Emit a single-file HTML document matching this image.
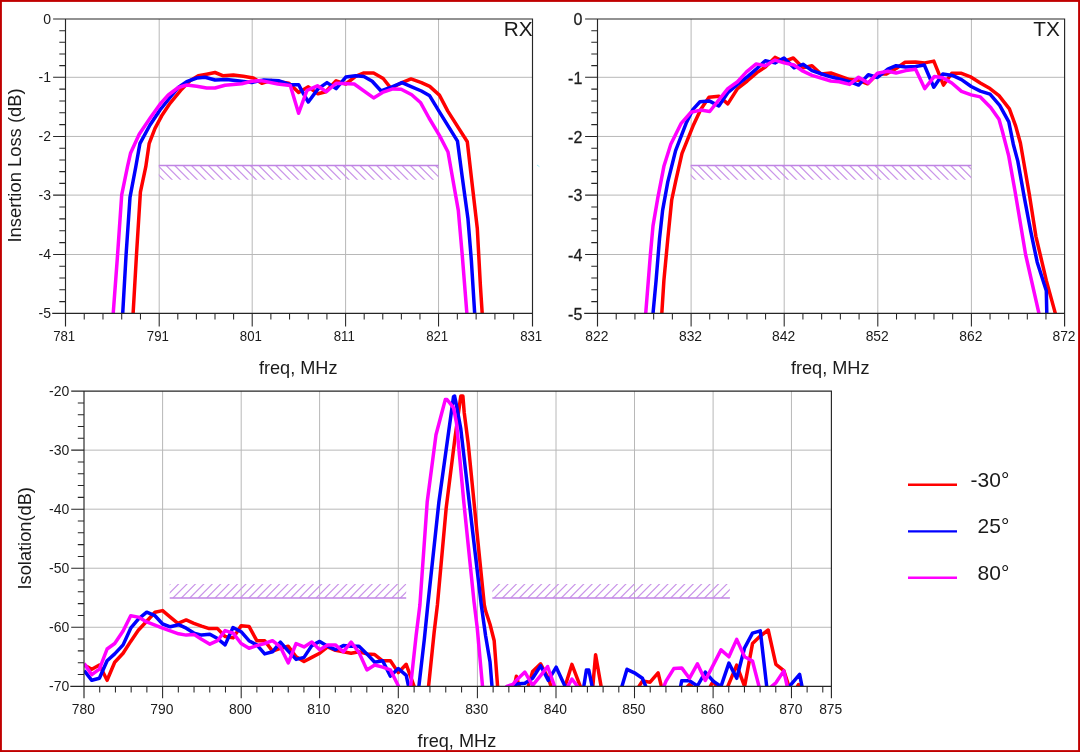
<!DOCTYPE html>
<html><head><meta charset="utf-8"><title>Filter response</title>
<style>
html,body{margin:0;padding:0;background:#fff;overflow:hidden}
svg{display:block;font-family:"Liberation Sans", sans-serif;will-change:transform}
.t{font-size:14px;fill:#1a1a1a}
.l{font-size:17.5px;fill:#1a1a1a}
</style></head><body>
<svg width="1080" height="752" viewBox="0 0 1080 752">
<rect width="1080" height="752" fill="#ffffff"/>
<clipPath id="crx"><rect x="65.5" y="19.0" width="467.0" height="295.2"/></clipPath>
<clipPath id="ctx"><rect x="597.5" y="19.0" width="467.0999999999999" height="295.2"/></clipPath>
<clipPath id="cis"><rect x="84.0" y="391.1" width="747.4" height="295.99999999999994"/></clipPath>
<line x1="159.20" y1="19.0" x2="159.20" y2="313.4" stroke="#b8b8b8" stroke-width="1.0"/>
<line x1="252.20" y1="19.0" x2="252.20" y2="313.4" stroke="#b8b8b8" stroke-width="1.0"/>
<line x1="345.60" y1="19.0" x2="345.60" y2="313.4" stroke="#b8b8b8" stroke-width="1.0"/>
<line x1="438.55" y1="19.0" x2="438.55" y2="313.4" stroke="#b8b8b8" stroke-width="1.0"/>
<line x1="65.5" y1="77.30" x2="532.5" y2="77.30" stroke="#b8b8b8" stroke-width="1.0"/>
<line x1="65.5" y1="136.45" x2="532.5" y2="136.45" stroke="#b8b8b8" stroke-width="1.0"/>
<line x1="65.5" y1="195.10" x2="532.5" y2="195.10" stroke="#b8b8b8" stroke-width="1.0"/>
<line x1="65.5" y1="254.50" x2="532.5" y2="254.50" stroke="#b8b8b8" stroke-width="1.0"/>
<clipPath id="h1"><rect x="158.8" y="165.5" width="279.8" height="14.3"/></clipPath>
<path d="M132.57,165.5 l16.3,16.3 M140.99,165.5 l16.3,16.3 M149.41,165.5 l16.3,16.3 M157.83,165.5 l16.3,16.3 M166.25,165.5 l16.3,16.3 M174.67,165.5 l16.3,16.3 M183.09,165.5 l16.3,16.3 M191.51,165.5 l16.3,16.3 M199.93,165.5 l16.3,16.3 M208.35,165.5 l16.3,16.3 M216.77,165.5 l16.3,16.3 M225.19,165.5 l16.3,16.3 M233.61,165.5 l16.3,16.3 M242.03,165.5 l16.3,16.3 M250.45,165.5 l16.3,16.3 M258.87,165.5 l16.3,16.3 M267.29,165.5 l16.3,16.3 M275.71,165.5 l16.3,16.3 M284.13,165.5 l16.3,16.3 M292.55,165.5 l16.3,16.3 M300.97,165.5 l16.3,16.3 M309.39,165.5 l16.3,16.3 M317.81,165.5 l16.3,16.3 M326.23,165.5 l16.3,16.3 M334.65,165.5 l16.3,16.3 M343.07,165.5 l16.3,16.3 M351.49,165.5 l16.3,16.3 M359.91,165.5 l16.3,16.3 M368.33,165.5 l16.3,16.3 M376.75,165.5 l16.3,16.3 M385.17,165.5 l16.3,16.3 M393.59,165.5 l16.3,16.3 M402.01,165.5 l16.3,16.3 M410.43,165.5 l16.3,16.3 M418.85,165.5 l16.3,16.3 M427.27,165.5 l16.3,16.3 M435.69,165.5 l16.3,16.3 M444.11,165.5 l16.3,16.3 " fill="none" stroke="#ca96e9" stroke-width="1.2" clip-path="url(#h1)"/>
<line x1="158.8" y1="165.5" x2="438.6" y2="165.5" stroke="#c084e4" stroke-width="1.6"/>
<polyline points="133.1,313.6 136.5,254.5 140.4,192.2 145.8,166.7 149.2,143.3 155.0,128.3 161.7,115.8 170.0,103.3 181.7,89.2 190.0,80.8 198.3,75.8 206.7,74.2 215.0,72.5 223.3,75.8 233.3,75.0 243.3,76.3 253.3,78.0 261.8,83.3 270.8,80.6 288.9,83.3 298.6,92.4 308.3,86.8 318.0,93.8 325.7,91.7 336.1,80.8 345.8,84.0 355.6,76.4 363.9,72.9 373.6,72.9 383.2,78.5 390.8,88.2 402.0,82.6 411.0,78.9 421.4,82.6 429.7,86.4 439.4,95.1 447.8,111.1 467.3,141.7 471.3,176.7 477.3,228.5 480.4,285.6 482.2,313.6" fill="none" stroke="#ff0000" stroke-width="3.5" stroke-linejoin="round" stroke-linecap="butt" clip-path="url(#crx)"/>
<polyline points="122.7,313.6 126.1,254.5 130.0,197.4 135.8,166.7 139.1,148.1 140.0,143.3 150.0,125.0 160.0,110.0 170.0,97.5 178.3,87.5 186.7,81.7 196.7,78.0 205.0,77.2 215.0,80.0 226.7,79.5 241.7,81.3 251.7,82.5 263.9,79.9 279.2,80.8 290.3,84.7 298.6,84.7 303.5,93.8 308.3,102.0 318.0,88.9 327.0,82.6 336.1,88.6 345.8,77.1 355.6,75.7 363.9,76.4 372.2,81.2 381.1,91.0 390.3,87.5 402.0,82.6 411.7,86.8 421.4,91.0 429.7,95.8 439.4,111.8 457.5,141.2 462.2,176.7 467.9,218.2 471.3,259.6 474.7,313.6" fill="none" stroke="#0000ff" stroke-width="3.5" stroke-linejoin="round" stroke-linecap="butt" clip-path="url(#crx)"/>
<polyline points="113.2,313.6 117.6,254.5 121.7,194.8 127.5,166.7 130.5,153.3 139.2,134.2 150.0,118.3 160.0,104.2 168.3,95.0 178.3,87.5 186.7,85.0 196.7,86.3 206.7,88.0 215.0,88.0 225.0,85.3 241.7,83.8 251.7,81.3 261.0,80.6 277.8,84.0 290.3,85.4 298.6,113.2 307.0,90.3 317.4,85.8 326.4,91.7 336.1,83.3 354.2,84.0 373.6,97.9 382.5,92.4 392.9,88.9 401.2,89.3 411.7,94.7 420.7,102.8 429.0,118.0 439.4,135.4 448.0,152.0 458.3,210.4 462.2,254.5 466.9,313.6" fill="none" stroke="#ff00ff" stroke-width="3.5" stroke-linejoin="round" stroke-linecap="butt" clip-path="url(#crx)"/>
<path d="M53.1,19.0 H532.5 V326.59999999999997 M65.5,19.0 V326.59999999999997 M52.2,313.4 H532.5" fill="none" stroke="#262626" stroke-width="1.15"/>
<path d="M159.20,313.4 v13.2 M252.20,313.4 v13.2 M345.60,313.4 v13.2 M438.55,313.4 v13.2 M84.24,313.4 v6.2 M102.98,313.4 v6.2 M121.72,313.4 v6.2 M140.46,313.4 v6.2 M177.80,313.4 v6.2 M196.40,313.4 v6.2 M215.00,313.4 v6.2 M233.60,313.4 v6.2 M270.88,313.4 v6.2 M289.56,313.4 v6.2 M308.24,313.4 v6.2 M326.92,313.4 v6.2 M364.19,313.4 v6.2 M382.78,313.4 v6.2 M401.37,313.4 v6.2 M419.96,313.4 v6.2 M457.34,313.4 v6.2 M476.13,313.4 v6.2 M494.92,313.4 v6.2 M513.71,313.4 v6.2 M65.5,77.30 h-12.4 M65.5,136.45 h-12.4 M65.5,195.10 h-12.4 M65.5,254.50 h-12.4 M65.5,30.66 h-6.2 M65.5,42.32 h-6.2 M65.5,53.98 h-6.2 M65.5,65.64 h-6.2 M65.5,89.13 h-6.2 M65.5,100.96 h-6.2 M65.5,112.79 h-6.2 M65.5,124.62 h-6.2 M65.5,148.18 h-6.2 M65.5,159.91 h-6.2 M65.5,171.64 h-6.2 M65.5,183.37 h-6.2 M65.5,206.98 h-6.2 M65.5,218.86 h-6.2 M65.5,230.74 h-6.2 M65.5,242.62 h-6.2 M65.5,266.28 h-6.2 M65.5,278.06 h-6.2 M65.5,289.84 h-6.2 M65.5,301.62 h-6.2 " fill="none" stroke="#262626" stroke-width="1.05"/>
<text transform="translate(64.2,340.6) scale(0.945,1)" text-anchor="middle" class="t">781</text>
<text transform="translate(157.9,340.6) scale(0.945,1)" text-anchor="middle" class="t">791</text>
<text transform="translate(250.9,340.6) scale(0.945,1)" text-anchor="middle" class="t">801</text>
<text transform="translate(344.3,340.6) scale(0.945,1)" text-anchor="middle" class="t">811</text>
<text transform="translate(437.2,340.6) scale(0.945,1)" text-anchor="middle" class="t">821</text>
<text transform="translate(531.2,340.6) scale(0.945,1)" text-anchor="middle" class="t">831</text>
<text x="51.0" y="23.7" text-anchor="end" class="t" style="font-size:14px">0</text>
<text x="51.0" y="82.0" text-anchor="end" class="t" style="font-size:14px">-1</text>
<text x="51.0" y="141.1" text-anchor="end" class="t" style="font-size:14px">-2</text>
<text x="51.0" y="199.8" text-anchor="end" class="t" style="font-size:14px">-3</text>
<text x="51.0" y="259.2" text-anchor="end" class="t" style="font-size:14px">-4</text>
<text x="51.0" y="318.1" text-anchor="end" class="t" style="font-size:14px">-5</text>
<text x="532.7" y="35.7" text-anchor="end" style="font-size:20.8px" fill="#1a1a1a">RX</text>
<text transform="translate(298.2,373.5) scale(1.037,1)" text-anchor="middle" class="l">freq, MHz</text>
<line x1="691.10" y1="19.0" x2="691.10" y2="313.4" stroke="#b8b8b8" stroke-width="1.0"/>
<line x1="784.20" y1="19.0" x2="784.20" y2="313.4" stroke="#b8b8b8" stroke-width="1.0"/>
<line x1="877.80" y1="19.0" x2="877.80" y2="313.4" stroke="#b8b8b8" stroke-width="1.0"/>
<line x1="971.40" y1="19.0" x2="971.40" y2="313.4" stroke="#b8b8b8" stroke-width="1.0"/>
<line x1="597.5" y1="77.30" x2="1064.6" y2="77.30" stroke="#b8b8b8" stroke-width="1.0"/>
<line x1="597.5" y1="136.45" x2="1064.6" y2="136.45" stroke="#b8b8b8" stroke-width="1.0"/>
<line x1="597.5" y1="195.10" x2="1064.6" y2="195.10" stroke="#b8b8b8" stroke-width="1.0"/>
<line x1="597.5" y1="254.50" x2="1064.6" y2="254.50" stroke="#b8b8b8" stroke-width="1.0"/>
<clipPath id="h2"><rect x="690.7" y="165.5" width="280.7" height="14.3"/></clipPath>
<path d="M664.47,165.5 l16.3,16.3 M672.89,165.5 l16.3,16.3 M681.31,165.5 l16.3,16.3 M689.73,165.5 l16.3,16.3 M698.15,165.5 l16.3,16.3 M706.57,165.5 l16.3,16.3 M714.99,165.5 l16.3,16.3 M723.41,165.5 l16.3,16.3 M731.83,165.5 l16.3,16.3 M740.25,165.5 l16.3,16.3 M748.67,165.5 l16.3,16.3 M757.09,165.5 l16.3,16.3 M765.51,165.5 l16.3,16.3 M773.93,165.5 l16.3,16.3 M782.35,165.5 l16.3,16.3 M790.77,165.5 l16.3,16.3 M799.19,165.5 l16.3,16.3 M807.61,165.5 l16.3,16.3 M816.03,165.5 l16.3,16.3 M824.45,165.5 l16.3,16.3 M832.87,165.5 l16.3,16.3 M841.29,165.5 l16.3,16.3 M849.71,165.5 l16.3,16.3 M858.13,165.5 l16.3,16.3 M866.55,165.5 l16.3,16.3 M874.97,165.5 l16.3,16.3 M883.39,165.5 l16.3,16.3 M891.81,165.5 l16.3,16.3 M900.23,165.5 l16.3,16.3 M908.65,165.5 l16.3,16.3 M917.07,165.5 l16.3,16.3 M925.49,165.5 l16.3,16.3 M933.91,165.5 l16.3,16.3 M942.33,165.5 l16.3,16.3 M950.75,165.5 l16.3,16.3 M959.17,165.5 l16.3,16.3 M967.59,165.5 l16.3,16.3 M976.01,165.5 l16.3,16.3 " fill="none" stroke="#ca96e9" stroke-width="1.2" clip-path="url(#h2)"/>
<line x1="690.7" y1="165.5" x2="971.4" y2="165.5" stroke="#c084e4" stroke-width="1.6"/>
<polyline points="661.8,313.6 663.9,280.4 667.8,238.9 671.7,200.0 676.1,179.3 682.0,153.3 693.0,126.1 700.7,109.4 709.0,97.2 718.8,96.2 727.8,103.9 737.5,88.6 747.2,81.0 756.9,72.6 765.3,67.1 775.0,57.4 784.0,61.5 793.3,58.0 803.0,67.8 812.0,65.7 821.1,74.0 830.8,73.0 840.6,76.4 849.6,79.6 858.6,80.3 867.6,83.8 877.4,74.0 886.4,74.0 896.1,68.5 905.1,62.2 915.6,61.9 924.7,62.9 933.8,61.1 943.5,85.1 951.8,73.3 961.5,73.3 971.2,77.2 980.3,83.0 990.0,88.6 999.0,95.6 1009.4,108.8 1015.7,126.1 1020.4,143.0 1029.4,194.8 1035.9,236.3 1046.3,280.4 1055.4,313.6" fill="none" stroke="#ff0000" stroke-width="3.5" stroke-linejoin="round" stroke-linecap="butt" clip-path="url(#ctx)"/>
<polyline points="653.0,313.6 656.1,280.4 659.5,238.9 662.6,210.4 667.8,181.9 675.6,150.7 686.1,123.3 693.0,109.4 700.0,101.8 709.7,101.1 718.8,106.0 727.8,92.8 737.5,84.4 747.2,76.8 756.9,68.5 765.3,60.8 775.0,62.9 784.0,58.0 794.0,67.8 803.0,64.3 812.0,70.6 821.8,74.0 830.8,76.8 849.6,81.7 858.6,85.1 868.3,74.7 877.4,77.5 887.8,69.2 896.1,65.7 905.8,67.1 915.6,66.4 924.3,65.0 933.8,87.2 942.8,74.0 952.5,75.4 961.5,79.6 971.2,86.5 980.3,91.1 990.0,94.2 999.7,105.3 1008.8,121.9 1013.3,144.2 1017.8,161.1 1024.3,197.4 1030.7,231.1 1037.2,262.2 1046.3,290.7 1046.8,313.6" fill="none" stroke="#0000ff" stroke-width="3.5" stroke-linejoin="round" stroke-linecap="butt" clip-path="url(#ctx)"/>
<polyline points="645.7,313.6 650.4,254.5 653.0,225.9 657.9,197.4 663.9,166.3 670.8,144.2 681.2,123.3 691.0,112.2 700.7,110.1 709.7,111.5 727.8,88.6 737.5,81.7 746.5,71.9 756.2,63.9 765.3,65.7 775.0,60.1 784.0,62.9 794.0,65.0 803.0,71.2 812.0,75.4 830.8,81.0 839.2,81.7 849.6,84.4 858.6,77.2 868.3,83.0 877.4,73.3 887.8,71.2 896.1,73.0 905.8,70.6 915.6,69.2 924.7,88.6 934.4,76.4 942.8,77.8 951.8,83.0 961.5,91.4 971.2,94.9 980.3,96.9 990.7,107.4 999.0,119.2 1002.5,131.7 1008.7,155.9 1015.2,192.2 1025.6,254.5 1039.0,313.6" fill="none" stroke="#ff00ff" stroke-width="3.5" stroke-linejoin="round" stroke-linecap="butt" clip-path="url(#ctx)"/>
<path d="M585.1,19.0 H1064.6 V326.59999999999997 M597.5,19.0 V326.59999999999997 M584.2,313.4 H1064.6" fill="none" stroke="#262626" stroke-width="1.15"/>
<path d="M691.10,313.4 v13.2 M784.20,313.4 v13.2 M877.80,313.4 v13.2 M971.40,313.4 v13.2 M616.22,313.4 v6.2 M634.94,313.4 v6.2 M653.66,313.4 v6.2 M672.38,313.4 v6.2 M709.72,313.4 v6.2 M728.34,313.4 v6.2 M746.96,313.4 v6.2 M765.58,313.4 v6.2 M802.92,313.4 v6.2 M821.64,313.4 v6.2 M840.36,313.4 v6.2 M859.08,313.4 v6.2 M896.52,313.4 v6.2 M915.24,313.4 v6.2 M933.96,313.4 v6.2 M952.68,313.4 v6.2 M990.04,313.4 v6.2 M1008.68,313.4 v6.2 M1027.32,313.4 v6.2 M1045.96,313.4 v6.2 M597.5,77.30 h-12.4 M597.5,136.45 h-12.4 M597.5,195.10 h-12.4 M597.5,254.50 h-12.4 M597.5,30.66 h-6.2 M597.5,42.32 h-6.2 M597.5,53.98 h-6.2 M597.5,65.64 h-6.2 M597.5,89.13 h-6.2 M597.5,100.96 h-6.2 M597.5,112.79 h-6.2 M597.5,124.62 h-6.2 M597.5,148.18 h-6.2 M597.5,159.91 h-6.2 M597.5,171.64 h-6.2 M597.5,183.37 h-6.2 M597.5,206.98 h-6.2 M597.5,218.86 h-6.2 M597.5,230.74 h-6.2 M597.5,242.62 h-6.2 M597.5,266.28 h-6.2 M597.5,278.06 h-6.2 M597.5,289.84 h-6.2 M597.5,301.62 h-6.2 " fill="none" stroke="#262626" stroke-width="1.05"/>
<text transform="translate(596.9,340.6) scale(0.99,1)" text-anchor="middle" class="t">822</text>
<text transform="translate(690.5,340.6) scale(0.99,1)" text-anchor="middle" class="t">832</text>
<text transform="translate(783.6,340.6) scale(0.99,1)" text-anchor="middle" class="t">842</text>
<text transform="translate(877.2,340.6) scale(0.99,1)" text-anchor="middle" class="t">852</text>
<text transform="translate(970.8,340.6) scale(0.99,1)" text-anchor="middle" class="t">862</text>
<text transform="translate(1064.0,340.6) scale(0.99,1)" text-anchor="middle" class="t">872</text>
<text x="582.3" y="25.2" text-anchor="end" class="t" style="font-size:16px" stroke="#262626" stroke-width="0.3">0</text>
<text x="582.3" y="83.5" text-anchor="end" class="t" style="font-size:16px" stroke="#262626" stroke-width="0.3">-1</text>
<text x="582.3" y="142.6" text-anchor="end" class="t" style="font-size:16px" stroke="#262626" stroke-width="0.3">-2</text>
<text x="582.3" y="201.3" text-anchor="end" class="t" style="font-size:16px" stroke="#262626" stroke-width="0.3">-3</text>
<text x="582.3" y="260.7" text-anchor="end" class="t" style="font-size:16px" stroke="#262626" stroke-width="0.3">-4</text>
<text x="582.3" y="319.6" text-anchor="end" class="t" style="font-size:16px" stroke="#262626" stroke-width="0.3">-5</text>
<text x="1059.8" y="35.7" text-anchor="end" style="font-size:20.8px" fill="#1a1a1a">TX</text>
<text transform="translate(830.2,373.5) scale(1.037,1)" text-anchor="middle" class="l">freq, MHz</text>
<line x1="162.60" y1="391.1" x2="162.60" y2="686.3" stroke="#b8b8b8" stroke-width="1.0"/>
<line x1="241.20" y1="391.1" x2="241.20" y2="686.3" stroke="#b8b8b8" stroke-width="1.0"/>
<line x1="319.60" y1="391.1" x2="319.60" y2="686.3" stroke="#b8b8b8" stroke-width="1.0"/>
<line x1="398.30" y1="391.1" x2="398.30" y2="686.3" stroke="#b8b8b8" stroke-width="1.0"/>
<line x1="477.40" y1="391.1" x2="477.40" y2="686.3" stroke="#b8b8b8" stroke-width="1.0"/>
<line x1="556.00" y1="391.1" x2="556.00" y2="686.3" stroke="#b8b8b8" stroke-width="1.0"/>
<line x1="634.50" y1="391.1" x2="634.50" y2="686.3" stroke="#b8b8b8" stroke-width="1.0"/>
<line x1="713.10" y1="391.1" x2="713.10" y2="686.3" stroke="#b8b8b8" stroke-width="1.0"/>
<line x1="791.45" y1="391.1" x2="791.45" y2="686.3" stroke="#b8b8b8" stroke-width="1.0"/>
<line x1="84.0" y1="450.14" x2="831.4" y2="450.14" stroke="#b8b8b8" stroke-width="1.0"/>
<line x1="84.0" y1="509.18" x2="831.4" y2="509.18" stroke="#b8b8b8" stroke-width="1.0"/>
<line x1="84.0" y1="568.22" x2="831.4" y2="568.22" stroke="#b8b8b8" stroke-width="1.0"/>
<line x1="84.0" y1="627.26" x2="831.4" y2="627.26" stroke="#b8b8b8" stroke-width="1.0"/>
<clipPath id="h3"><rect x="169.7" y="584.0" width="236.5" height="14"/></clipPath>
<path d="M139.32,598.0 l16,-16 M147.74,598.0 l16,-16 M156.16,598.0 l16,-16 M164.58,598.0 l16,-16 M173.00,598.0 l16,-16 M181.42,598.0 l16,-16 M189.84,598.0 l16,-16 M198.26,598.0 l16,-16 M206.68,598.0 l16,-16 M215.10,598.0 l16,-16 M223.52,598.0 l16,-16 M231.94,598.0 l16,-16 M240.36,598.0 l16,-16 M248.78,598.0 l16,-16 M257.20,598.0 l16,-16 M265.62,598.0 l16,-16 M274.04,598.0 l16,-16 M282.46,598.0 l16,-16 M290.88,598.0 l16,-16 M299.30,598.0 l16,-16 M307.72,598.0 l16,-16 M316.14,598.0 l16,-16 M324.56,598.0 l16,-16 M332.98,598.0 l16,-16 M341.40,598.0 l16,-16 M349.82,598.0 l16,-16 M358.24,598.0 l16,-16 M366.66,598.0 l16,-16 M375.08,598.0 l16,-16 M383.50,598.0 l16,-16 M391.92,598.0 l16,-16 M400.34,598.0 l16,-16 M408.76,598.0 l16,-16 " fill="none" stroke="#ca96e9" stroke-width="1.2" clip-path="url(#h3)"/>
<line x1="169.7" y1="598.0" x2="406.2" y2="598.0" stroke="#c084e4" stroke-width="1.6"/>
<clipPath id="h4"><rect x="492.3" y="584.0" width="237.5" height="14"/></clipPath>
<path d="M460.32,598.0 l16,-16 M468.74,598.0 l16,-16 M477.16,598.0 l16,-16 M485.58,598.0 l16,-16 M494.00,598.0 l16,-16 M502.42,598.0 l16,-16 M510.84,598.0 l16,-16 M519.26,598.0 l16,-16 M527.68,598.0 l16,-16 M536.10,598.0 l16,-16 M544.52,598.0 l16,-16 M552.94,598.0 l16,-16 M561.36,598.0 l16,-16 M569.78,598.0 l16,-16 M578.20,598.0 l16,-16 M586.62,598.0 l16,-16 M595.04,598.0 l16,-16 M603.46,598.0 l16,-16 M611.88,598.0 l16,-16 M620.30,598.0 l16,-16 M628.72,598.0 l16,-16 M637.14,598.0 l16,-16 M645.56,598.0 l16,-16 M653.98,598.0 l16,-16 M662.40,598.0 l16,-16 M670.82,598.0 l16,-16 M679.24,598.0 l16,-16 M687.66,598.0 l16,-16 M696.08,598.0 l16,-16 M704.50,598.0 l16,-16 M712.92,598.0 l16,-16 M721.34,598.0 l16,-16 M729.76,598.0 l16,-16 M738.18,598.0 l16,-16 " fill="none" stroke="#ca96e9" stroke-width="1.2" clip-path="url(#h4)"/>
<line x1="492.3" y1="598.0" x2="729.8" y2="598.0" stroke="#c084e4" stroke-width="1.6"/>
<polyline points="84.2,665.0 91.8,669.2 99.4,665.0 107.1,680.3 114.7,662.2 123.1,653.2 130.7,641.4 138.3,630.3 146.7,621.2 155.0,612.2 162.6,610.6 170.3,617.1 177.9,623.3 186.2,619.9 193.9,623.3 201.5,626.1 209.2,628.6 217.5,628.6 225.1,636.5 233.2,637.9 241.1,625.8 249.0,626.4 256.8,640.7 264.7,640.7 272.5,651.1 280.4,648.3 288.3,646.2 296.1,656.7 304.0,661.5 311.8,657.4 319.7,653.2 327.6,646.9 335.4,650.4 343.3,651.8 351.1,653.2 359.0,651.8 366.9,653.9 374.7,654.6 382.6,660.8 390.4,660.8 398.3,672.6 406.2,664.3 414.0,686.1 415.0,720.0 427.5,720.0 428.6,686.1 434.2,631.7 437.4,605.0 446.2,507.9 455.0,437.7 460.8,396.1 462.9,396.1 464.2,412.5 468.2,443.5 476.9,531.3 484.3,605.0 485.6,610.8 490.0,624.2 494.2,640.8 497.6,686.4 498.5,720.0 513.5,720.0 514.3,686.4 516.4,676.2 519.2,686.4 520.0,720.0 527.5,720.0 528.2,686.4 532.6,671.4 540.6,663.8 548.3,678.3 551.1,686.4 552.0,720.0 564.0,720.0 565.0,686.4 571.9,664.4 580.3,686.4 581.0,720.0 592.0,720.0 592.8,686.4 595.6,654.7 601.1,686.4 602.0,720.0 638.0,720.0 638.9,686.4 642.4,681.1 650.1,682.2 658.1,672.8 661.4,686.4 662.0,720.0 687.0,720.0 687.5,686.4 689.4,684.6 691.7,686.4 692.0,720.0 710.0,720.0 710.4,686.4 713.2,681.0 716.7,686.4 717.0,720.0 727.0,720.0 727.8,686.4 736.7,665.1 744.6,686.4 752.5,643.6 760.3,636.0 768.2,630.0 775.9,664.4 783.8,670.6 788.9,686.4 790.0,720.0 797.0,720.0 797.5,686.4 798.5,684.5 799.5,686.4 800.0,720.0" fill="none" stroke="#ff0000" stroke-width="3.5" stroke-linejoin="round" stroke-linecap="butt" clip-path="url(#cis)"/>
<polyline points="84.2,670.6 91.8,680.3 99.4,678.2 107.1,660.8 114.7,653.9 123.1,644.9 130.7,628.2 138.3,619.2 146.7,612.2 155.0,615.7 162.6,624.0 170.3,626.8 178.6,624.7 186.2,628.2 193.9,633.1 201.5,635.1 209.9,634.2 217.5,638.6 225.1,644.9 233.0,627.5 241.1,631.7 249.0,640.7 256.8,644.9 264.7,653.9 272.5,651.8 280.4,642.1 288.3,651.1 296.1,659.4 304.0,657.4 311.8,645.6 319.7,641.4 327.6,646.2 335.4,649.7 343.3,645.6 351.1,646.2 359.0,646.2 366.9,653.9 374.7,662.2 382.6,660.8 390.4,676.1 398.3,668.5 406.2,675.4 408.5,686.1 409.5,720.0 417.5,720.0 418.9,686.1 424.4,638.6 427.8,605.0 438.9,502.0 453.5,396.7 454.6,396.0 455.8,401.8 460.8,428.9 472.6,531.3 481.3,605.0 485.6,635.8 490.0,661.7 492.0,686.4 493.0,720.0 512.0,720.0 512.9,686.4 516.9,683.9 524.9,683.2 532.6,678.3 540.6,665.8 548.3,680.4 556.2,667.2 564.2,684.6 565.7,686.4 567.0,720.0 583.0,720.0 583.8,686.4 586.4,670.0 588.8,670.0 592.1,686.4 593.0,720.0 621.0,720.0 621.9,686.4 627.0,669.3 634.4,672.8 642.4,678.3 645.8,686.4 647.0,720.0 680.0,720.0 680.6,686.4 681.7,680.8 689.4,680.8 697.4,686.0 705.3,672.1 713.2,681.1 721.0,686.4 728.9,663.1 736.7,678.3 744.6,647.8 752.5,633.2 760.3,630.8 766.7,686.4 768.0,720.0 788.0,720.0 789.4,686.4 799.6,674.4 802.0,686.4 803.0,720.0" fill="none" stroke="#0000ff" stroke-width="3.5" stroke-linejoin="round" stroke-linecap="butt" clip-path="url(#cis)"/>
<polyline points="84.2,663.6 91.8,674.7 99.4,669.2 107.1,649.0 114.7,643.5 123.1,631.0 130.7,615.7 138.3,617.1 146.7,621.9 162.6,628.2 178.6,633.8 186.2,635.1 193.9,634.4 201.5,639.3 209.9,644.2 217.5,640.7 225.1,630.6 233.2,633.1 241.1,643.5 249.0,648.3 256.8,645.6 264.7,643.5 272.5,640.7 280.4,646.9 288.3,662.9 296.1,643.5 304.0,646.9 311.8,642.1 319.7,649.7 327.6,644.9 335.4,644.9 343.3,651.8 351.1,642.1 359.0,652.5 366.9,669.9 374.7,665.0 382.6,667.1 390.4,669.9 398.3,685.8 402.0,700.0 408.0,700.0 410.6,686.1 416.1,635.8 419.9,605.0 427.2,502.0 436.0,434.8 445.3,399.6 447.0,399.5 453.6,407.9 456.5,423.0 463.8,502.0 474.0,601.6 477.2,627.5 482.5,686.1 484.0,720.0 505.0,720.0 506.7,686.4 512.9,684.3 516.9,679.7 524.9,672.1 532.6,685.3 540.6,675.6 547.6,666.5 554.6,686.4 556.0,720.0 566.0,720.0 567.8,686.4 571.9,679.0 577.5,686.4 579.0,720.0 662.0,720.0 663.9,686.4 666.0,681.1 673.8,668.6 681.7,667.9 689.4,678.3 697.4,663.8 705.3,680.4 713.2,665.1 721.0,649.9 728.9,656.8 736.7,639.4 744.6,656.8 752.5,661.0 759.0,686.4 760.0,720.0 770.0,720.0 771.7,686.4 775.9,682.8 783.8,670.9 787.2,686.4 788.0,720.0" fill="none" stroke="#ff00ff" stroke-width="3.5" stroke-linejoin="round" stroke-linecap="butt" clip-path="url(#cis)"/>
<path d="M71.2,391.1 H831.4 V698.3 M84.0,391.1 V698.3 M70.3,686.3 H831.4" fill="none" stroke="#262626" stroke-width="1.15"/>
<path d="M162.60,686.3 v12.0 M241.20,686.3 v12.0 M319.60,686.3 v12.0 M398.30,686.3 v12.0 M477.40,686.3 v12.0 M556.00,686.3 v12.0 M634.50,686.3 v12.0 M713.10,686.3 v12.0 M791.45,686.3 v12.0 M99.72,686.3 v6.2 M115.44,686.3 v6.2 M131.16,686.3 v6.2 M146.88,686.3 v6.2 M178.32,686.3 v6.2 M194.04,686.3 v6.2 M209.76,686.3 v6.2 M225.48,686.3 v6.2 M256.88,686.3 v6.2 M272.56,686.3 v6.2 M288.24,686.3 v6.2 M303.92,686.3 v6.2 M335.34,686.3 v6.2 M351.08,686.3 v6.2 M366.82,686.3 v6.2 M382.56,686.3 v6.2 M414.12,686.3 v6.2 M429.94,686.3 v6.2 M445.76,686.3 v6.2 M461.58,686.3 v6.2 M493.12,686.3 v6.2 M508.84,686.3 v6.2 M524.56,686.3 v6.2 M540.28,686.3 v6.2 M571.70,686.3 v6.2 M587.40,686.3 v6.2 M603.10,686.3 v6.2 M618.80,686.3 v6.2 M650.22,686.3 v6.2 M665.94,686.3 v6.2 M681.66,686.3 v6.2 M697.38,686.3 v6.2 M728.77,686.3 v6.2 M744.44,686.3 v6.2 M760.11,686.3 v6.2 M775.78,686.3 v6.2 M807.12,686.3 v6.2 M822.79,686.3 v6.2 M84.0,450.14 h-12.8 M84.0,509.18 h-12.8 M84.0,568.22 h-12.8 M84.0,627.26 h-12.8 M84.0,402.91 h-6.2 M84.0,414.72 h-6.2 M84.0,426.52 h-6.2 M84.0,438.33 h-6.2 M84.0,461.95 h-6.2 M84.0,473.76 h-6.2 M84.0,485.56 h-6.2 M84.0,497.37 h-6.2 M84.0,520.99 h-6.2 M84.0,532.80 h-6.2 M84.0,544.60 h-6.2 M84.0,556.41 h-6.2 M84.0,580.03 h-6.2 M84.0,591.84 h-6.2 M84.0,603.64 h-6.2 M84.0,615.45 h-6.2 M84.0,639.07 h-6.2 M84.0,650.88 h-6.2 M84.0,662.68 h-6.2 M84.0,674.49 h-6.2 " fill="none" stroke="#262626" stroke-width="1.05"/>
<text transform="translate(83.3,713.7) scale(0.99,1)" text-anchor="middle" class="t">780</text>
<text transform="translate(161.9,713.7) scale(0.99,1)" text-anchor="middle" class="t">790</text>
<text transform="translate(240.5,713.7) scale(0.99,1)" text-anchor="middle" class="t">800</text>
<text transform="translate(318.9,713.7) scale(0.99,1)" text-anchor="middle" class="t">810</text>
<text transform="translate(397.6,713.7) scale(0.99,1)" text-anchor="middle" class="t">820</text>
<text transform="translate(476.7,713.7) scale(0.99,1)" text-anchor="middle" class="t">830</text>
<text transform="translate(555.3,713.7) scale(0.99,1)" text-anchor="middle" class="t">840</text>
<text transform="translate(633.8,713.7) scale(0.99,1)" text-anchor="middle" class="t">850</text>
<text transform="translate(712.4,713.7) scale(0.99,1)" text-anchor="middle" class="t">860</text>
<text transform="translate(790.8,713.7) scale(0.99,1)" text-anchor="middle" class="t">870</text>
<text transform="translate(830.7,713.7) scale(0.99,1)" text-anchor="middle" class="t">875</text>
<text x="69.3" y="395.8" text-anchor="end" class="t" style="font-size:14px">-20</text>
<text x="69.3" y="454.8" text-anchor="end" class="t" style="font-size:14px">-30</text>
<text x="69.3" y="513.9" text-anchor="end" class="t" style="font-size:14px">-40</text>
<text x="69.3" y="572.9" text-anchor="end" class="t" style="font-size:14px">-50</text>
<text x="69.3" y="632.0" text-anchor="end" class="t" style="font-size:14px">-60</text>
<text x="69.3" y="691.0" text-anchor="end" class="t" style="font-size:14px">-70</text>
<text transform="translate(456.9,746.5) scale(1.037,1)" text-anchor="middle" class="l">freq, MHz</text>
<text transform="translate(20.8,165.5) rotate(-90) scale(1.05,1)" text-anchor="middle" class="l">Insertion Loss (dB)</text>
<text transform="translate(31.2,538.3) rotate(-90) scale(1.042,1)" text-anchor="middle" class="l">Isolation(dB)</text>
<line x1="908" y1="484.8" x2="957" y2="484.8" stroke="#ff0000" stroke-width="2.4"/>
<text transform="translate(1009.3,486.8) scale(1.05,1)" text-anchor="end" style="font-size:20px" fill="#1a1a1a">-30&#176;</text>
<line x1="908" y1="531.4" x2="957" y2="531.4" stroke="#0000ff" stroke-width="2.4"/>
<text transform="translate(1009.3,533.4) scale(1.05,1)" text-anchor="end" style="font-size:20px" fill="#1a1a1a">25&#176;</text>
<line x1="908" y1="577.7" x2="957" y2="577.7" stroke="#ff00ff" stroke-width="2.4"/>
<text transform="translate(1009.3,579.7) scale(1.05,1)" text-anchor="end" style="font-size:20px" fill="#1a1a1a">80&#176;</text>
<path d="M537,165 l2.4,1.7" stroke="#9ff2f8" stroke-width="1" fill="none"/>
<rect x="0.95" y="0.95" width="1078.1" height="750.1" fill="none" stroke="#c00000" stroke-width="1.9"/>
</svg>
</body></html>
